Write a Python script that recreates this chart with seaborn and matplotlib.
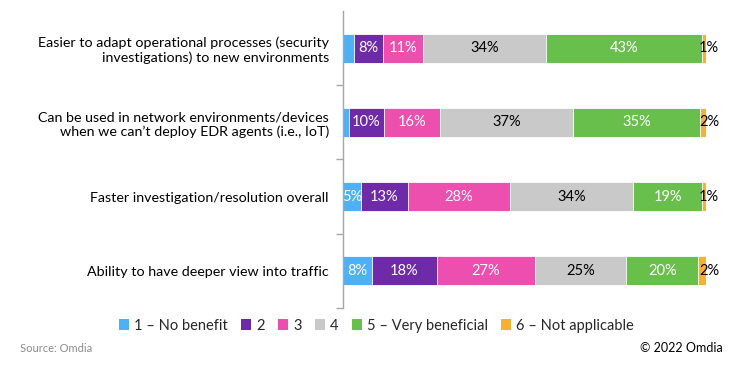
import numpy as np
import pandas as pd
import matplotlib.pyplot as plt
import seaborn as sns
from matplotlib.patches import Patch

# 数据
categories = [
    "Easier to adapt operational processes (security\ninvestigations) to new environments",
    "Can be used in network environments/devices\nwhen we can\u2019t deploy EDR agents (i.e., IoT)",
    "Faster investigation/resolution overall",
    "Ability to have deeper view into traffic",
]
series_names = ["1 \u2013 No benefit", "2", "3", "4", "5 \u2013 Very beneficial", "6 \u2013 Not applicable"]
s1_no_benefit = [3, 1.7, 5, 8]
s2 = [8, 9.6, 13, 18]
s3 = [11, 15.6, 28, 27]
s4 = [34, 36.6, 34, 25]
s5_very = [43, 34.8, 19, 20]
s6_na = [1, 1.7, 1, 2]
series_values = [s1_no_benefit, s2, s3, s4, s5_very, s6_na]

colors = ["#4EB1F8", "#6E2AA8", "#EC4FAE", "#C9C9C9", "#69BF4C", "#F6B130"]
text_colors = ["white", "white", "white", "black", "white", "black"]

sns.set_theme(style="white")
plt.rcParams['font.family'] = ['Lato', 'DejaVu Sans']

df = pd.DataFrame(np.array(series_values).T, columns=series_names)
df.insert(0, "cat", categories)
vals = df[series_names].values
vals = vals / vals.sum(axis=1, keepdims=True) * 100
cum = np.cumsum(vals, axis=1)

fig = plt.figure(figsize=(7.5, 3.7), dpi=100)
ax = fig.add_axes([0.457, 0.168, 0.484, 0.802])

# 从后往前叠加画
for k in range(len(series_names) - 1, -1, -1):
    sns.barplot(x=cum[:, k], y=categories, order=categories, color=colors[k],
                width=0.39, orient="h", ax=ax, edgecolor="white", linewidth=0.6,
                saturation=1)

# 数值标签
for i in range(len(categories)):
    left = 0
    for k in range(len(series_names)):
        w = vals[i, k]
        label = f"{int(round(series_values[k][i]))}%"
        if k == len(series_names) - 1:
            ax.text(100.9, i, label, ha="center", va="center", fontsize=10.5, color="black")
        elif w >= 4:
            ax.text(left + w / 2, i, label, ha="center", va="center",
                    fontsize=10.5, color=text_colors[k])
        left += w

ax.set_xlim(0, 100)
ax.set_ylim(3.5, -0.5)
ax.set_xlabel("")
ax.set_ylabel("")
ax.set_xticks([])
for sp in ["top", "right", "bottom"]:
    ax.spines[sp].set_visible(False)
ax.spines["left"].set_color("#A6A6A6")
ax.spines["left"].set_linewidth(1)
ax.set_yticks([0.5, 1.5, 2.5, 3.5], minor=True)
ax.tick_params(axis="y", which="major", length=0, pad=10, labelsize=10.3, labelcolor="#000000")
ax.tick_params(axis="y", which="minor", length=5, width=1, color="#A6A6A6", left=True)
for lab in ax.get_yticklabels():
    lab.set_horizontalalignment("right")
    lab.set_multialignment("right")
    lab.set_linespacing(1.2)

handles = [Patch(facecolor=c, edgecolor="none") for c in colors]
fig.legend(handles, series_names, loc="center", bbox_to_anchor=(0.502, 0.12), ncol=6,
           frameon=False, fontsize=10.5, handlelength=0.7, handleheight=0.7,
           handletextpad=0.35, columnspacing=0.9)

fig.text(0.027, 0.059, "Source: Omdia", fontsize=8, color="#8C8C8C", ha="left", va="center")
fig.text(0.963, 0.059, "\u00a9 2022 Omdia", fontsize=9, color="black", ha="right", va="center")

fig.savefig("out.png", dpi=100)
